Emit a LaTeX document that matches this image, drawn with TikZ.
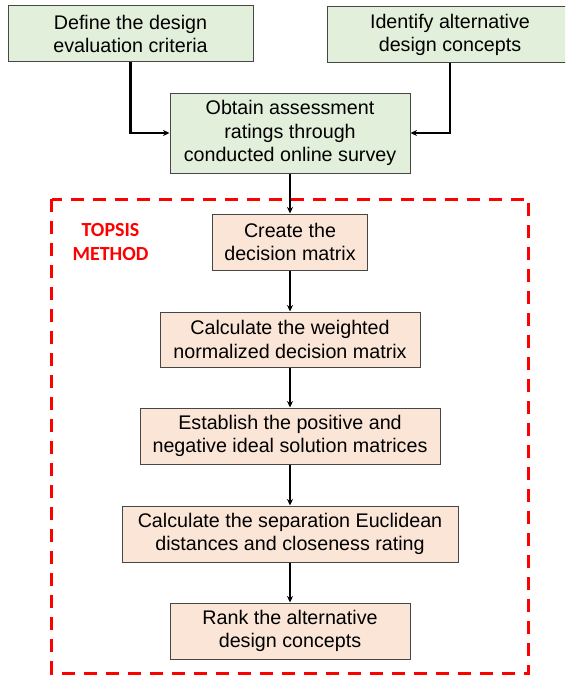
\documentclass[tikz,border=0pt]{standalone}
\usepackage{fontspec}
\setmainfont{Liberation Sans}
\newfontfamily\calib{Carlito}
\usetikzlibrary{arrows.meta}
\definecolor{boxgreen}{RGB}{226,239,218}
\definecolor{boxorange}{RGB}{251,229,214}
\definecolor{boxborder}{RGB}{70,70,70}
\definecolor{topsisred}{RGB}{255,0,0}
\tikzset{
  basebox/.style={draw=boxborder, line width=1pt, align=center, inner sep=0pt,
    font=\fontsize{19.7}{23.5}\selectfont, text=black},
  greenbox/.style={basebox, fill=boxgreen},
  orangebox/.style={basebox, fill=boxorange},
  flow/.style={line width=2.1pt, -{Stealth[length=6.5pt,width=6pt]}},
  topsisframe/.style={draw=topsisred, line width=3pt, dash pattern=on 13pt off 9pt},
}
\begin{document}
\begin{tikzpicture}[x=1pt,y=-1pt]
\useasboundingbox (0,0) rectangle (565,677);
\begin{scope}
\clip (0,0) rectangle (565,677);
\node[greenbox, minimum width=245pt, minimum height=56pt] (define) at (130.5,34) {Define the design\\evaluation criteria};
\node[greenbox, minimum width=246pt, minimum height=56pt] (identify) at (450,35) {Identify alternative\\design concepts};
\node[greenbox, minimum width=240pt, minimum height=80pt] (obtain) at (290,133) {Obtain assessment\\ratings through\\conducted online survey};

\draw[topsisframe] (51.5,199) rectangle (528.5,673);
\node[font=\calib\bfseries\fontsize{20}{24}\selectfont, text=topsisred, align=center, inner sep=0pt] (label) at (110.5,242) {TOPSIS\\METHOD};

\node[orangebox, minimum width=155pt, minimum height=56pt] (create) at (290,242) {Create the\\decision matrix};
\node[orangebox, minimum width=260pt, minimum height=55pt] (weighted) at (290,339.5) {Calculate the weighted\\normalized decision matrix};
\node[orangebox, minimum width=300pt, minimum height=56pt] (ideal) at (290,436) {Establish the positive and\\negative ideal solution matrices};
\node[orangebox, minimum width=336pt, minimum height=56pt] (separation) at (290,534) {Calculate the separation Euclidean\\distances and closeness rating};
\node[orangebox, minimum width=240pt, minimum height=56pt] (rank) at (290,631) {Rank the alternative\\design concepts};

\draw[flow] (define.south) |- (obtain.west);
\draw[flow] (identify.south) |- (obtain.east);
\draw[flow] (obtain) -- (create);
\draw[flow] (create) -- (weighted);
\draw[flow] (weighted) -- (ideal);
\draw[flow] (ideal) -- (separation);
\draw[flow] (separation) -- (rank);
\end{scope}
\end{tikzpicture}
\end{document}
